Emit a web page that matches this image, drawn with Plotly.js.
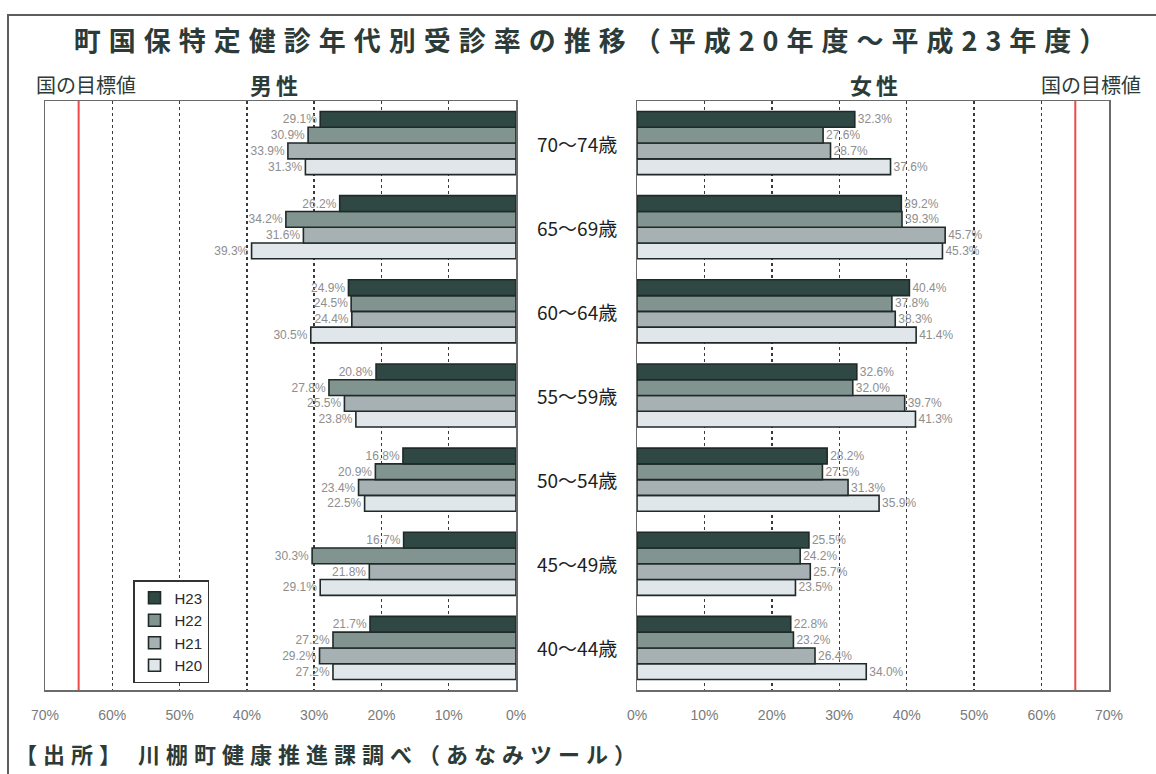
<!DOCTYPE html>
<html>
<head>
<meta charset="utf-8">
<script src="https://cdn.plot.ly/plotly-3.0.1.min.js"></script>
<style>
  html, body { margin: 0; padding: 0; background: #ffffff; }
  #wrap { position: relative; width: 1156px; height: 774px; overflow: hidden; }
  #chart { width: 1156px; height: 774px; }
  #frame { position: absolute; left: 7px; top: 14px; width: 1200px; height: 800px;
           border-top: 2px solid #5a5f5d; border-left: 2px solid #5a5f5d; pointer-events: none; }
  .gtitle { letter-spacing: 8px; }
  g.annotation[data-index="0"] text { letter-spacing: 6px; }
  g.annotation[data-index="2"] text, g.annotation[data-index="4"] text { letter-spacing: 4px; }
</style>
</head>
<body>
<div id="wrap">
  <div id="chart"></div>
  <div id="frame"></div>
</div>
<script>
// Age bands, listed bottom to top
const ages = ['40～44歳', '45～49歳', '50～54歳', '55～59歳', '60～64歳', '65～69歳', '70～74歳'];
const years = ['H20', 'H21', 'H22', 'H23'];

// 男性 受診率 (%)
const maleH20 = [27.2, 29.1, 22.5, 23.8, 30.5, 39.3, 31.3];
const maleH21 = [29.2, 21.8, 23.4, 25.5, 24.4, 31.6, 33.9];
const maleH22 = [27.2, 30.3, 20.9, 27.8, 24.5, 34.2, 30.9];
const maleH23 = [21.7, 16.7, 16.8, 20.8, 24.9, 26.2, 29.1];

// 女性 受診率 (%)
const femaleH20 = [34.0, 23.5, 35.9, 41.3, 41.4, 45.3, 37.6];
const femaleH21 = [26.4, 25.7, 31.3, 39.7, 38.3, 45.7, 28.7];
const femaleH22 = [23.2, 24.2, 27.5, 32.0, 37.8, 39.3, 27.6];
const femaleH23 = [22.8, 25.5, 28.2, 32.6, 40.4, 39.2, 32.3];

// 国の目標値 (%)
const nationalTarget = 65;

const tickValues = [0, 10, 20, 30, 40, 50, 60, 70];
const tickLabels = ['0%', '10%', '20%', '30%', '40%', '50%', '60%', '70%'];

const yearColors = { H20: '#e1e6ea', H21: '#a7b1b4', H22: '#82948f', H23: '#2f4843' };

const W = 1156, H = 774;
const M = { l: 45, r: 47, t: 101, b: 84 };
const plotW = W - M.l - M.r, plotH = H - M.t - M.b;
// pixel helpers for text placed around the plot area
const px = x => (x - M.l) / plotW;
const py = y => (H - M.b - y) / plotH;

const maleSeries = { H20: maleH20, H21: maleH21, H22: maleH22, H23: maleH23 };
const femaleSeries = { H20: femaleH20, H21: femaleH21, H22: femaleH22, H23: femaleH23 };

const labelFont = { family: 'Liberation Sans, Arial, sans-serif', size: 12, color: '#8e8e8e' };

function barTrace(vals, year, xa, ya, legend) {
  return {
    type: 'bar', orientation: 'h',
    x: vals, y: ages, name: year,
    xaxis: xa, yaxis: ya,
    legendgroup: year, showlegend: legend,
    marker: { color: yearColors[year], line: { color: '#1f2a28', width: 1.6 } },
    text: vals.map(v => v.toFixed(1) + '%'),
    textposition: 'outside', constraintext: 'none', cliponaxis: false,
    textfont: labelFont,
    hoverinfo: 'x+y+name'
  };
}

const traces = [];
years.forEach(yr => traces.push(barTrace(maleSeries[yr], yr, 'x', 'y', true)));
years.forEach(yr => traces.push(barTrace(femaleSeries[yr], yr, 'x2', 'y2', false)));

const jp = '"Noto Sans CJK JP", "Noto Sans", sans-serif';
const ink = '#2c3b37';

const axisCommon = {
  tickmode: 'array', tickvals: tickValues, ticktext: tickLabels,
  showgrid: true, gridcolor: '#3a3a3a', gridwidth: 1.4, griddash: '3px,3px',
  showline: true, mirror: true, linecolor: '#6b6b6b', linewidth: 1.5,
  zeroline: false, ticks: '', ticklabelstandoff: 12,
  tickfont: { family: 'Liberation Sans, Arial, sans-serif', size: 14, color: '#7a7a7a' },
  fixedrange: true
};

const yCommon = {
  type: 'category', categoryorder: 'array', categoryarray: ages,
  showticklabels: false, showgrid: false, zeroline: false,
  showline: true, mirror: true, linecolor: '#6b6b6b', linewidth: 1.5,
  fixedrange: true
};

const annotations = [
  { text: '【出所】 川棚町健康推進課調べ（あなみツール）', xref: 'paper', yref: 'paper',
    x: px(328), y: py(753), xanchor: 'center', yanchor: 'middle', showarrow: false,
    font: { family: jp, size: 22, color: ink, weight: 700 } },
  { text: '国の目標値', xref: 'paper', yref: 'paper', x: px(34), y: py(84),
    xanchor: 'left', yanchor: 'middle', showarrow: false,
    font: { family: jp, size: 20, color: ink } },
  { text: '男性', xref: 'paper', yref: 'paper', x: px(276), y: py(84),
    xanchor: 'center', yanchor: 'middle', showarrow: false,
    font: { family: jp, size: 22, color: ink, weight: 700 } },
  { text: '国の目標値', xref: 'paper', yref: 'paper', x: px(1143), y: py(84),
    xanchor: 'right', yanchor: 'middle', showarrow: false,
    font: { family: jp, size: 20, color: ink } },
  { text: '女性', xref: 'paper', yref: 'paper', x: px(876), y: py(84),
    xanchor: 'center', yanchor: 'middle', showarrow: false,
    font: { family: jp, size: 22, color: ink, weight: 700 } }
];
// age band labels between the two panels
ages.forEach(a => annotations.push({
  text: a, xref: 'paper', yref: 'y', x: px(577), y: a,
  xanchor: 'center', yanchor: 'middle', showarrow: false,
  font: { family: jp, size: 19, color: '#1e1e1e' }
}));

const layout = {
  width: W, height: H,
  margin: M,
  paper_bgcolor: '#ffffff', plot_bgcolor: '#ffffff',
  title: {
    text: '町国保特定健診年代別受診率の推移（平成20年度～平成23年度）',
    xref: 'container', yref: 'container', x: 594 / W, y: 1 - 42 / H,
    xanchor: 'center', yanchor: 'middle',
    font: { family: jp, size: 27, color: ink, weight: 700 }
  },
  barmode: 'group', bargap: 0.25, bargroupgap: 0,
  xaxis: Object.assign({}, axisCommon, { domain: [0, px(516)], range: [70, 0], anchor: 'y' }),
  xaxis2: Object.assign({}, axisCommon, { domain: [px(637), 1], range: [0, 70], anchor: 'y2' }),
  yaxis: Object.assign({}, yCommon, { anchor: 'x' }),
  yaxis2: Object.assign({}, yCommon, { anchor: 'x2', matches: 'y' }),
  showlegend: true,
  legend: {
    x: px(133), y: py(580), xanchor: 'left', yanchor: 'top',
    traceorder: 'reversed', bgcolor: '#ffffff',
    bordercolor: '#333333', borderwidth: 1.5,
    font: { family: 'Liberation Sans, Arial, sans-serif', size: 15, color: '#2a2a2a' },
    itemwidth: 30, tracegroupgap: 0
  },
  shapes: [
    { type: 'line', xref: 'x', yref: 'y domain', x0: nationalTarget, x1: nationalTarget, y0: 0, y1: 1,
      line: { color: '#f04848', width: 2 } },
    { type: 'line', xref: 'x2', yref: 'y2 domain', x0: nationalTarget, x1: nationalTarget, y0: 0, y1: 1,
      line: { color: '#f04848', width: 2 } }
  ],
  annotations: annotations
};

Plotly.newPlot('chart', traces, layout, { displayModeBar: false, staticPlot: true });
</script>
</body>
</html>
